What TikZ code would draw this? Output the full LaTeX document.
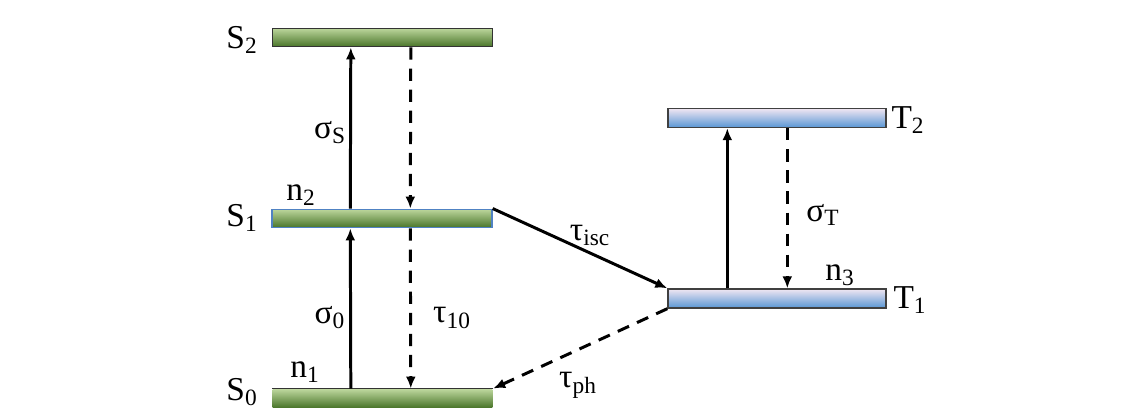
\documentclass[tikz,border=0pt]{standalone}
\usepackage{fontspec}
\setmainfont{Liberation Serif}
\usetikzlibrary{arrows.meta}
\definecolor{greentop}{RGB}{188,214,156}
\definecolor{greenbot}{RGB}{72,116,40}
\definecolor{bluetop}{RGB}{240,230,242}
\definecolor{bluebot}{RGB}{88,150,212}
\definecolor{blueedge}{RGB}{80,130,195}
\tikzset{
  levelS/.style={rectangle,inner sep=0pt,minimum width=4.4cm,minimum height=0.37cm,
    top color=greentop,bottom color=greenbot,draw=black!80,line width=0.8pt},
  levelT/.style={rectangle,inner sep=0pt,minimum width=4.36cm,minimum height=0.38cm,
    top color=bluetop,bottom color=bluebot,draw=black!75,line width=0.8pt},
  pump/.style={line width=1.7pt,-{Latex[length=2.4mm,width=2mm]}},
  decay/.style={pump,dash pattern=on 7pt off 5pt}
}
\newcommand{\lv}[2]{#1\textsubscript{#2}}
\begin{document}
\begin{tikzpicture}[x=0.02cm,y=0.02cm,every node/.style={font=\fontsize{19}{22}\selectfont}]
\useasboundingbox (0,0) rectangle (1143,408);

% singlet levels
\node[levelS] (S2) at (382.5,370.5) {};
\node[levelS,draw=blueedge] (S1) at (382,189.5) {};
\node[levelS,draw=none] (S0) at (382.5,9.5) {};
\draw[black!80,line width=0.8pt] (S0.north west) -- (S0.north east);

% triplet levels
\node[levelT] (T2) at (777,290) {};
\node[levelT] (T1) at (777,109.5) {};

% level names
\node (lS2) at (242,368) {\lv{S}{2}};
\node (lS1) at (242,190) {\lv{S}{1}};
\node (lS0) at (242,16) {\lv{S}{0}};
\node (lT2) at (908,288) {\lv{T}{2}};
\node (lT1) at (910,108) {\lv{T}{1}};

\node (n2) at (301,213) {\lv{n}{2}};
\node (n1) at (305,36) {\lv{n}{1}};
\node (n3) at (840,133) {\lv{n}{3}};

% transitions
\draw[pump] ([xshift=1.58cm]S0.north west) -- ([xshift=1.58cm]S1.south west);
\draw[decay] ([xshift=2.78cm]S1.south west) -- ([xshift=2.78cm]S0.north west);
\draw[pump] ([xshift=1.58cm]S1.north west) -- ([xshift=1.58cm]S2.south west);
\draw[decay] ([xshift=2.78cm]S2.south west) -- ([xshift=2.78cm]S1.north west);
\draw[pump] (S1.north east) -- (T1.north west);
\draw[decay] (T1.south west) -- (S0.north east);
\draw[pump] ([xshift=1.2cm]T1.north west) -- ([xshift=1.2cm]T2.south west);
\draw[decay] ([xshift=2.4cm]T2.south west) -- ([xshift=2.4cm]T1.north west);

% rate labels
\node (sS) at (330,275) {\lv{σ}{S}};
\node (s0) at (330,90) {\lv{σ}{0}};
\node (t10) at (452,90) {\lv{τ}{10}};
\node (tisc) at (590,173) {\lv{τ}{isc}};
\node (tph) at (578,23) {\lv{τ}{ph}};
\node (sT) at (823,193) {\lv{σ}{T}};
\end{tikzpicture}
\end{document}
